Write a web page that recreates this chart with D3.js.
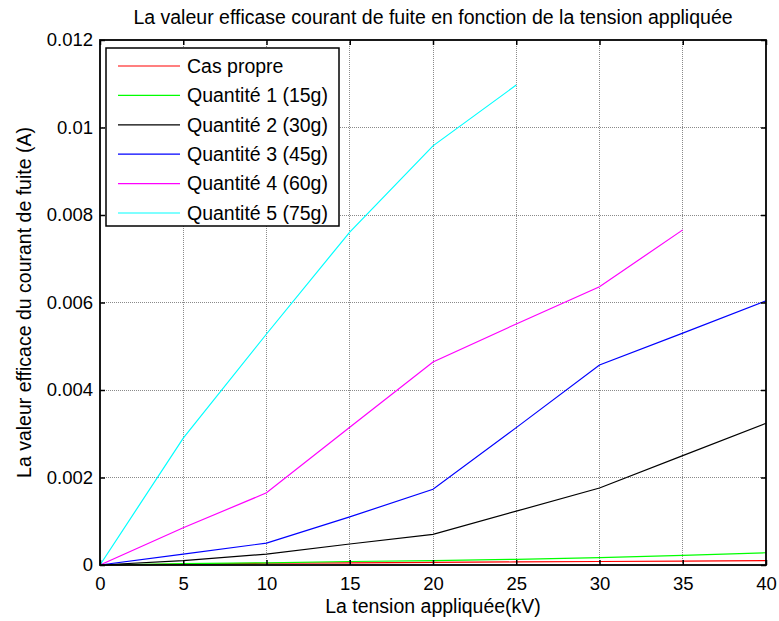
<!DOCTYPE html>
<html>
<head>
<meta charset="utf-8">
<script src="https://cdn.jsdelivr.net/npm/d3@7"></script>
<style>
  html, body { margin: 0; padding: 0; background: #fff; }
  svg { display: block; font-family: "Liberation Sans", Arial, sans-serif; }
</style>
</head>
<body>
<svg id="chart" width="779" height="621"></svg>
<script>
// Applied voltage (kV)
const voltage = [0, 5, 10, 15, 20, 25, 30, 35, 40];

// RMS leakage current (A) for each pollution level
const casPropre  = [0, 0.00002, 0.00004, 0.00005, 0.00006, 0.00007, 0.00008, 0.00009, 0.0001];
const quantite1  = [0, 0.00003, 0.00005, 0.00008, 0.0001, 0.00013, 0.00017, 0.00022, 0.00028];
const quantite2  = [0, 0.0001, 0.00025, 0.00048, 0.0007, 0.00123, 0.00176, 0.0025, 0.00324];
const quantite3  = [0, 0.00025, 0.0005, 0.0011, 0.00173, 0.00314, 0.00457, 0.0053, 0.00604];
const quantite4  = [0, 0.00085, 0.00165, 0.00315, 0.00464, 0.00551, 0.00636, 0.00766];
const quantite5  = [0, 0.0029, 0.00528, 0.00761, 0.00958, 0.01097];

const seriesNames  = ["Cas propre", "Quantité 1 (15g)", "Quantité 2 (30g)", "Quantité 3 (45g)", "Quantité 4 (60g)", "Quantité 5 (75g)"];
const seriesValues = [casPropre, quantite1, quantite2, quantite3, quantite4, quantite5];
const seriesColors = ["#ff0000", "#00ff00", "#000000", "#0000ff", "#ff00ff", "#00ffff"];

const xTicks = [0, 5, 10, 15, 20, 25, 30, 35, 40];
const yTicks = [0, 0.002, 0.004, 0.006, 0.008, 0.01, 0.012];
const yTickLabels = ["0", "0.002", "0.004", "0.006", "0.008", "0.01", "0.012"];

const svg = d3.select("#chart");
const plot = { left: 100, right: 766, top: 40, bottom: 565 };

const x = d3.scaleLinear().domain([0, 40]).range([plot.left, plot.right]);
const y = d3.scaleLinear().domain([0, 0.012]).range([plot.bottom, plot.top]);

// grid (dotted, MATLAB style)
const grid = svg.append("g");
grid.selectAll("line.gx").data(xTicks.slice(1, -1)).enter().append("line")
  .attr("x1", d => x(d)).attr("x2", d => x(d))
  .attr("y1", plot.top).attr("y2", plot.bottom)
  .attr("stroke", "#8a8a8a").attr("stroke-width", 1).attr("stroke-dasharray", "1,1")
  .attr("shape-rendering", "crispEdges");
grid.selectAll("line.gy").data(yTicks.slice(1, -1)).enter().append("line")
  .attr("x1", plot.left).attr("x2", plot.right)
  .attr("y1", d => y(d)).attr("y2", d => y(d))
  .attr("stroke", "#8a8a8a").attr("stroke-width", 1).attr("stroke-dasharray", "1,1")
  .attr("shape-rendering", "crispEdges");

// series lines
const line = d3.line().x((d, i) => x(voltage[i])).y(d => y(d));
svg.append("g").selectAll("path").data(seriesValues).enter().append("path")
  .attr("d", d => line(d))
  .attr("fill", "none")
  .attr("stroke", (d, i) => seriesColors[i])
  .attr("stroke-width", 1.2);

// axes with inward ticks on all four sides
const tickFont = 18.5;
const axB = svg.append("g").attr("transform", `translate(0,${plot.bottom})`)
  .call(d3.axisBottom(x).tickValues(xTicks).tickFormat(d3.format("d")).tickSizeInner(-5).tickSizeOuter(0).tickPadding(12));
const axT = svg.append("g").attr("transform", `translate(0,${plot.top})`)
  .call(d3.axisTop(x).tickValues(xTicks).tickFormat("").tickSizeInner(-5).tickSizeOuter(0));
const axL = svg.append("g").attr("transform", `translate(${plot.left},0)`)
  .call(d3.axisLeft(y).tickValues(yTicks).tickFormat((d, i) => yTickLabels[i]).tickSizeInner(-5).tickSizeOuter(0).tickPadding(7));
const axR = svg.append("g").attr("transform", `translate(${plot.right},0)`)
  .call(d3.axisRight(y).tickValues(yTicks).tickFormat("").tickSizeInner(-5).tickSizeOuter(0));

[axB, axT, axL, axR].forEach(a => {
  a.select(".domain").remove();
  a.selectAll(".tick line").attr("stroke", "#000").attr("stroke-width", 1.5);
  a.selectAll(".tick text").attr("font-size", tickFont).attr("fill", "#000")
    .attr("font-family", "Liberation Sans, Arial, sans-serif");
});

// plot box
svg.append("rect")
  .attr("x", plot.left).attr("y", plot.top)
  .attr("width", plot.right - plot.left).attr("height", plot.bottom - plot.top)
  .attr("fill", "none").attr("stroke", "#000").attr("stroke-width", 1.8);

// title and axis labels
svg.append("text").attr("x", (plot.left + plot.right) / 2).attr("y", 24)
  .attr("text-anchor", "middle").attr("font-size", 19.5).attr("fill", "#000")
  .text("La valeur efficase courant de fuite en fonction de la tension appliquée");
svg.append("text").attr("x", (plot.left + plot.right) / 2).attr("y", 613)
  .attr("text-anchor", "middle").attr("font-size", 19.5).attr("fill", "#000")
  .text("La tension appliquée(kV)");
svg.append("text")
  .attr("transform", `translate(31,${(plot.top + plot.bottom) / 2}) rotate(-90)`)
  .attr("text-anchor", "middle").attr("font-size", 19.5).attr("fill", "#000")
  .text("La valeur efficace du courant de fuite (A)");

// legend
const lg = svg.append("g");
lg.append("rect").attr("x", 106).attr("y", 48).attr("width", 233).attr("height", 178)
  .attr("fill", "#fff").attr("stroke", "#000").attr("stroke-width", 1.5);
const rows = lg.selectAll("g.row").data(seriesNames).enter().append("g")
  .attr("transform", (d, i) => `translate(0,${66 + i * 29.4})`);
rows.append("line").attr("x1", 118).attr("x2", 180).attr("y1", 0).attr("y2", 0)
  .attr("stroke", (d, i) => seriesColors[i]).attr("stroke-width", 1.2);
rows.append("text").attr("x", 187).attr("y", 0).attr("dy", "0.35em")
  .attr("font-size", 19.5).attr("fill", "#000").text(d => d);
</script>
</body>
</html>
